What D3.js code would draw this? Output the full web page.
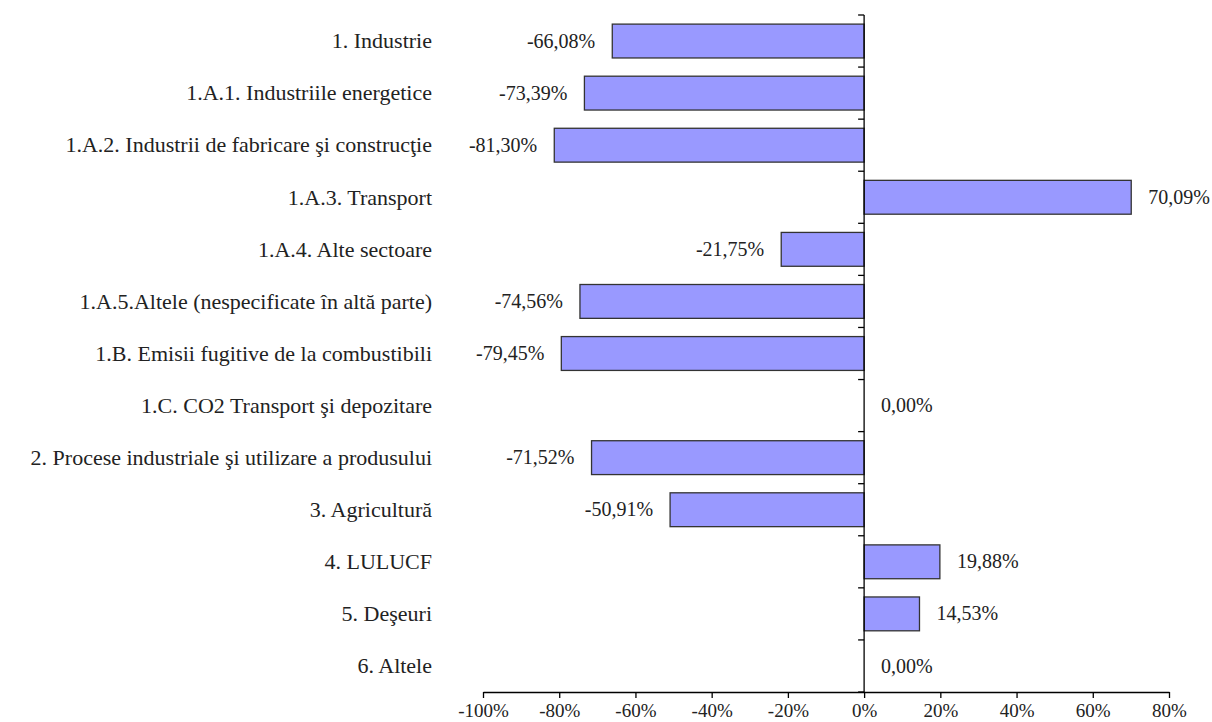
<!DOCTYPE html>
<html>
<head>
<meta charset="utf-8">
<script src="https://cdn.jsdelivr.net/npm/d3@7"></script>
<style>
  body { margin: 0; background: #fff; }
  svg, svg text, svg g text, .tick text { font-family: "Liberation Serif", "Times New Roman", serif !important; }
</style>
</head>
<body>
<svg id="chart" width="1212" height="722" style="font-family: 'Liberation Serif'"></svg>
<script>
const categories = [
  "1. Industrie",
  "1.A.1. Industriile energetice",
  "1.A.2. Industrii de fabricare şi construcţie",
  "1.A.3. Transport",
  "1.A.4. Alte sectoare",
  "1.A.5.Altele (nespecificate în altă parte)",
  "1.B. Emisii fugitive de la combustibili",
  "1.C. CO2 Transport şi depozitare",
  "2. Procese industriale şi utilizare a produsului",
  "3. Agricultură",
  "4. LULUCF",
  "5. Deşeuri",
  "6. Altele"
];
const values = [-66.08, -73.39, -81.30, 70.09, -21.75, -74.56, -79.45, 0.00, -71.52, -50.91, 19.88, 14.53, 0.00];
const xTicks = [-100, -80, -60, -40, -20, 0, 20, 40, 60, 80];

const FONT = '"Liberation Serif"';
const svg = d3.select("#chart");
const x = d3.scaleLinear().domain([-100, 80]).range([483, 1169]);
const y = d3.scaleBand().domain(categories).range([15, 692]).paddingInner(0.35).paddingOuter(0.175);
const fmt = v => d3.format(".2f")(v).replace("−", "-").replace(".", ",") + "%";

// bars
svg.append("g").selectAll("rect").data(values).join("rect")
  .attr("x", d => x(Math.min(0, d)))
  .attr("y", (d, i) => y(categories[i]))
  .attr("width", d => Math.abs(x(d) - x(0)))
  .attr("height", y.bandwidth())
  .attr("fill", "#9999FF")
  .attr("stroke", d => d === 0 ? "none" : "#333")
  .attr("stroke-width", 1.3);

// bottom axis
const xAxis = d3.axisBottom(x).tickValues(xTicks).tickSize(6).tickSizeOuter(0)
  .tickFormat(d => String(d) + "%");
const gx = svg.append("g").attr("transform", "translate(0,692)").call(xAxis);
gx.attr("font-family", FONT).attr("font-size", 19);
gx.select(".domain").attr("stroke", "#000").attr("stroke-width", 1.3);
gx.selectAll(".tick line").attr("stroke", "#000").attr("stroke-width", 1.3);
gx.selectAll(".tick text")
  .attr("font-family", FONT).attr("font-size", 19)
  .attr("y", 9).attr("dy", "16px").attr("fill", "#222");

// vertical axis at zero with ticks at band boundaries
const boundaries = d3.range(categories.length + 1).map(i => 15 + i * (677 / categories.length));
svg.append("line").attr("x1", x(0)).attr("x2", x(0)).attr("y1", 15).attr("y2", 692)
  .attr("stroke", "#000").attr("stroke-width", 1.3);
svg.append("g").selectAll("line").data(boundaries).join("line")
  .attr("x1", x(0) - 6).attr("x2", x(0)).attr("y1", d => d).attr("y2", d => d)
  .attr("stroke", "#000").attr("stroke-width", 1.3);

// category labels
svg.selectAll("text.cat").data(categories).join("text")
  .attr("class", "cat")
  .attr("x", 432)
  .attr("y", d => y(d) + y.bandwidth() / 2)
  .attr("dy", "0.33em")
  .attr("text-anchor", "end")
  .attr("font-family", FONT).attr("font-size", 22)
  .attr("fill", "#222")
  .text(d => d);

// value labels
svg.selectAll("text.val").data(values).join("text")
  .attr("class", "val")
  .attr("x", d => d < 0 ? x(d) - 17 : x(d) + 17)
  .attr("y", (d, i) => y(categories[i]) + y.bandwidth() / 2)
  .attr("dy", "0.33em")
  .attr("text-anchor", d => d < 0 ? "end" : "start")
  .attr("font-family", FONT).attr("font-size", 20)
  .attr("fill", "#222")
  .text(d => fmt(d));
</script>
</body>
</html>
